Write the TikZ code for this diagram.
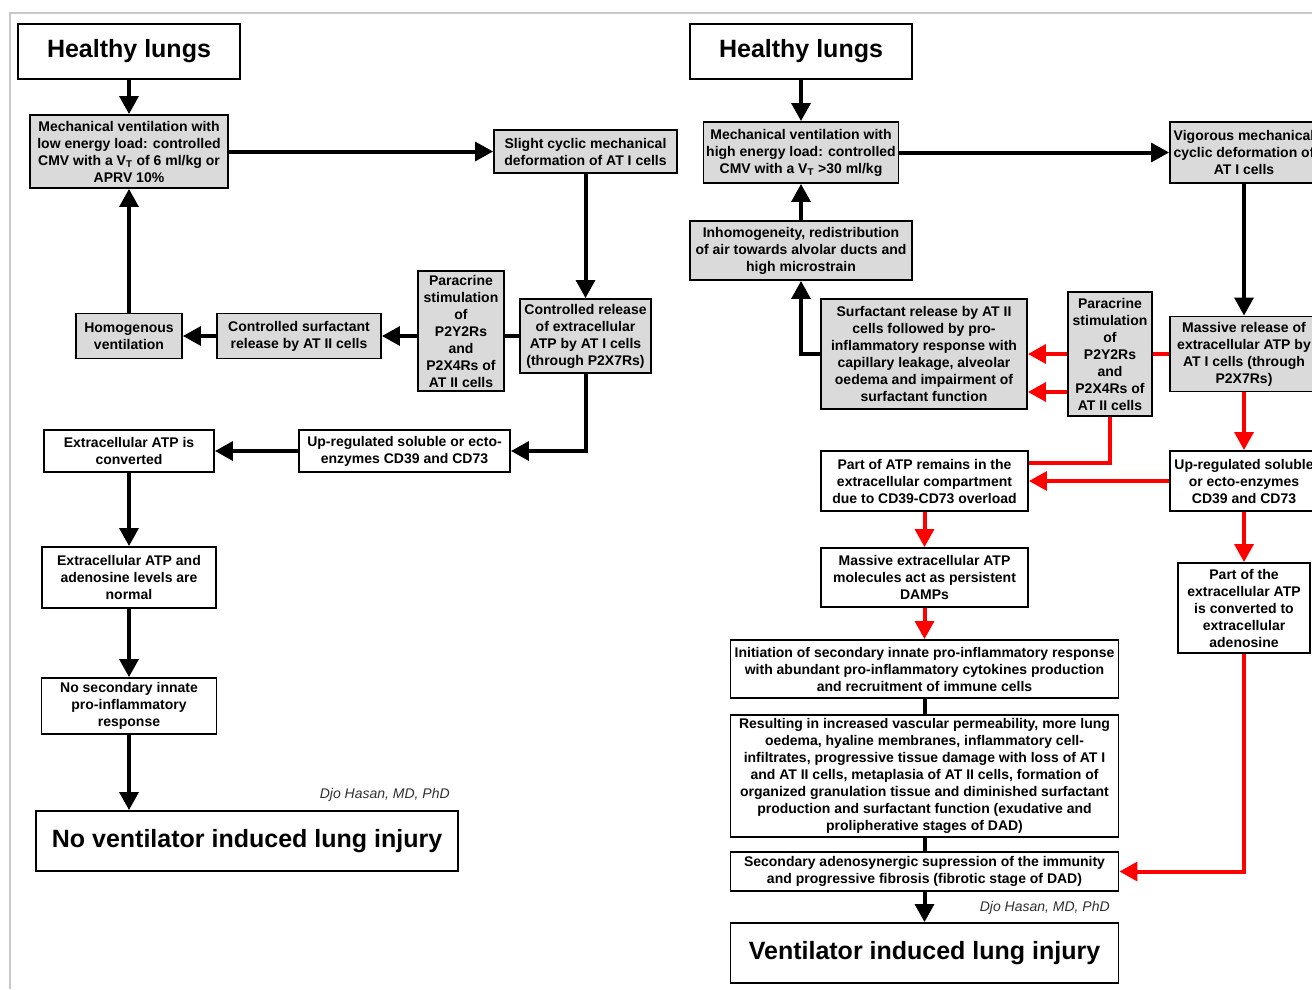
\documentclass[tikz,border=0pt]{standalone}
\usepackage{fontspec}
\setmainfont{Liberation Sans}
\usetikzlibrary{arrows.meta,calc}
\definecolor{boxgray}{HTML}{DADADA}
\definecolor{framegray}{HTML}{C8C8C8}
\definecolor{creditgray}{HTML}{303030}

\begin{document}
\begin{tikzpicture}[x=0.75pt,y=-0.75pt,
	sz/.style 2 args={minimum width=#1*0.75pt,minimum height=#2*0.75pt},
	box/.style={draw,line width=1.3pt,fill=white,align=center,inner sep=0pt,font=\fontsize{10.5}{12.75}\selectfont\bfseries},
	gbox/.style={box,fill=boxgray},
	big/.style={box,font=\fontsize{18.75}{22}\selectfont\bfseries},
	credit/.style={inner sep=0pt,text=creditgray,font=\fontsize{10.5}{12}\selectfont\itshape},
	ln/.style={line width=3pt},
	arr/.style={ln,-{Triangle[length=13.5pt,width=14pt]}},
	rln/.style={ln,red},
	rarr/.style={arr,red}]
	\useasboundingbox (0,0) rectangle (1312,989);
	\clip (0,0) rectangle (1312,989);
	\draw[framegray,line width=1.5pt] (9.5,989)--(9.5,12.5)--(1312,12.5);	%frame

	%left: low energy load
	\node[big,sz={222}{55}] (hlA) at (129,51.5) {Healthy lungs};
	\node[gbox,sz={198}{73}] (mvA) at (129,151.5) {Mechanical ventilation with\\low energy load: controlled\\CMV with a V\textsubscript{T} of 6 ml/kg or\\APRV 10\%};
	\node[gbox,sz={183}{43}] (slA) at (585.5,151.5) {Slight cyclic mechanical\\deformation of AT I cells};
	\node[gbox,sz={131}{74}] (crA) at (585.5,336) {Controlled release\\of extracellular\\ATP by AT I cells\\(through P2X7Rs)};
	\node[gbox,sz={86}{120}] (pcA) at (461,331) {Paracrine\\stimulation\\of\\P2Y2Rs\\and\\P2X4Rs of\\AT II cells};
	\node[gbox,sz={164}{45}] (csA) at (299,336) {Controlled surfactant\\release by AT II cells};
	\node[gbox,sz={106}{45}] (hvA) at (129,336) {Homogenous\\ventilation};
	\node[box,sz={211}{42}] (urA) at (404.5,451) {Up-regulated soluble or ecto-\\enzymes CD39 and CD73};
	\node[box,sz={170}{42}] (ecA) at (129,451) {Extracellular ATP is\\converted};
	\node[box,sz={174}{61}] (enA) at (129,577.5) {Extracellular ATP and\\adenosine levels are\\normal};
	\node[box,sz={175}{56}] (nsA) at (129,706) {No secondary innate\\pro-inflammatory\\response};
	\node[big,sz={422}{60}] (nvA) at (247,841) {No ventilator induced lung injury};
	\node[credit,anchor=east] (cdA) at (450,795) {Djo Hasan, MD, PhD};
	%
	\draw[arr] (hlA)--(mvA);
	\draw[arr] (mvA)--(slA);
	\draw[arr] (slA)--(crA);
	\draw[ln] (crA.west)--(crA.west -| pcA.east);
	\draw[arr] (pcA.west |- csA)--(csA);
	\draw[arr] (csA)--(hvA);
	\draw[arr] (hvA)--(mvA);
	\draw[arr] (crA.south) |- (urA.east);
	\draw[arr] (urA)--(ecA);
	\draw[arr] (ecA)--(enA);
	\draw[arr] (enA)--(nsA);
	\draw[arr] (nsA.south)--(nsA.south |- nvA.north);

	%right: high energy load
	\node[big,sz={222}{55}] (hlB) at (801,51.5) {Healthy lungs};
	\node[gbox,sz={195}{61}] (mvB) at (801,152.5) {Mechanical ventilation with\\high energy load: controlled\\CMV with a V\textsubscript{T} >30 ml/kg};
	\node[gbox,sz={148}{61}] (vgB) at (1244,152.5) {Vigorous mechanical\\cyclic deformation of\\AT I cells};
	\node[gbox,sz={222}{59}] (ihB) at (801,250.5) {Inhomogeneity, redistribution\\of air towards alvolar ducts and\\high microstrain};
	\node[gbox,sz={206}{110}] (srB) at (924,354) {Surfactant release by AT II\\cells followed by pro-\\inflammatory response with\\capillary leakage, alveolar\\oedema and impairment of\\surfactant function};
	\node[gbox,sz={84}{124}] (pcB) at (1110,354) {Paracrine\\stimulation\\of\\P2Y2Rs\\and\\P2X4Rs of\\AT II cells};
	\node[gbox,sz={148}{75}] (mrB) at (1244,354) {Massive release of\\extracellular ATP by\\AT I cells (through\\P2X7Rs)};
	\node[box,sz={148}{60}] (urB) at (1244,481) {Up-regulated soluble\\or ecto-enzymes\\CD39 and CD73};
	\node[box,sz={207}{60}] (paB) at (924.5,481) {Part of ATP remains in the\\extracellular compartment\\due to CD39-CD73 overload};
	\node[box,sz={207}{59}] (meB) at (924.5,577.5) {Massive extracellular ATP\\molecules act as persistent\\DAMPs};
	\node[box,sz={132}{90}] (pvB) at (1244,608) {Part of the\\extracellular ATP\\is converted to\\extracellular\\adenosine};
	\node[box,sz={388}{58}] (inB) at (924.5,669) {Initiation of secondary innate pro-inflammatory response\\with abundant pro-inflammatory cytokines production\\and recruitment of immune cells};
	\node[box,sz={388}{122}] (reB) at (924.5,776) {Resulting in increased vascular permeability, more lung\\oedema, hyaline membranes, inflammatory cell-\\infiltrates, progressive tissue damage with loss of AT I\\and AT II cells, metaplasia of AT II cells, formation of\\organized granulation tissue and diminished surfactant\\production and surfactant function (exudative and\\prolipherative stages of DAD)};
	\node[box,sz={388}{39}] (saB) at (924.5,871.5) {Secondary adenosynergic supression of the immunity\\and progressive fibrosis (fibrotic stage of DAD)};
	\node[big,sz={388}{60}] (viB) at (924.5,953) {Ventilator induced lung injury};
	\node[credit,anchor=east] (cdB) at (1110,908) {Djo Hasan, MD, PhD};
	%
	\draw[arr] (hlB)--(mvB);
	\draw[arr] (mvB)--(vgB);
	\draw[arr] (vgB)--(mrB);
	\draw[arr] (ihB)--(mvB);
	\draw[arr] (srB.west) -| (ihB.south);
	\draw[rln] (mrB)--(pcB);
	\draw[rarr] (pcB.west)--(pcB.west -| srB.east);
	\draw[rarr] ($(pcB.west)+(0,38)$)--($(pcB.west -| srB.east)+(0,38)$);
	\draw[rarr] (mrB)--(urB);
	\draw[rln] (pcB.south) |- ($(paB.east)+(0,-18)$);
	\draw[rarr] (urB)--(paB);
	\draw[rarr] (urB)--(pvB);
	\draw[rarr] (paB)--(meB);
	\draw[rarr] (meB)--(inB);
	\draw[ln] (inB)--(reB);
	\draw[ln] (reB)--(saB);
	\draw[rarr] (pvB.south) |- (saB.east);
	\draw[arr] (saB)--(viB);
\end{tikzpicture}
\end{document}
